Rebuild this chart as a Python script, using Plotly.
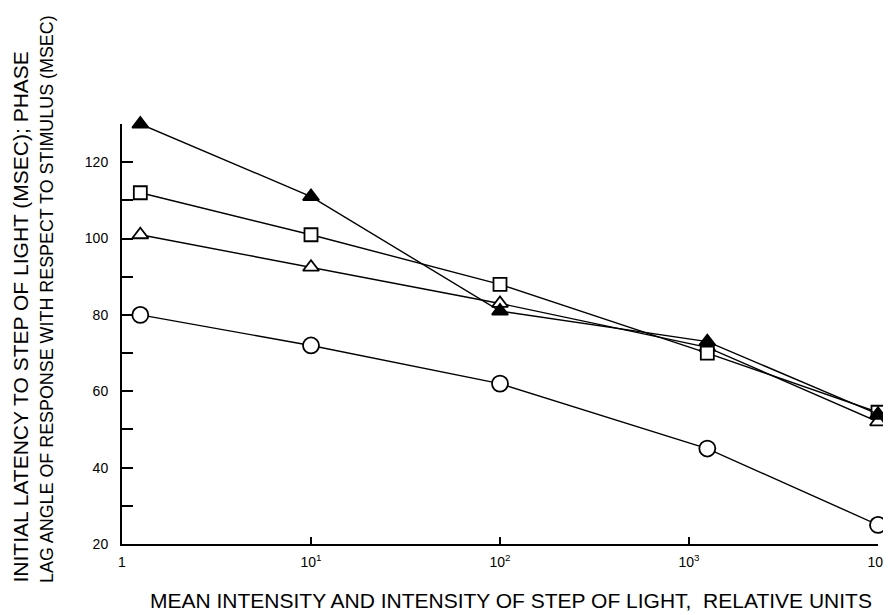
import plotly.graph_objects as go

# Data
intensity = [1.25, 10, 100, 1250, 10000]
circle_vals = [80, 72, 62, 45, 25]
open_tri_vals = [101, 92.5, 83, 71.5, 52]
square_vals = [112, 101, 88, 70, 54.5]
filled_tri_vals = [130, 111, 81, 73, 54]

x_tickvals = [1, 10, 100, 1000, 10000]
x_ticktext = ["1", "10<sup>1</sup>", "10<sup>2</sup>", "10<sup>3</sup>", "10<sup>4</sup>"]
y_tickvals = [20, 40, 60, 80, 100, 120]

x_title = "MEAN INTENSITY AND INTENSITY OF STEP OF LIGHT,  RELATIVE UNITS"
y_title_1 = "INITIAL LATENCY TO STEP OF LIGHT (MSEC); PHASE"
y_title_2 = "LAG ANGLE OF RESPONSE WITH RESPECT TO STIMULUS (MSEC)"

FONT = "Liberation Sans, Arial, sans-serif"

fig = go.Figure()

series = [
    (circle_vals, "circle", 16, "white"),
    (open_tri_vals, "triangle-up", 14, "white"),
    (square_vals, "square", 13, "white"),
    (filled_tri_vals, "triangle-up", 14, "black"),
]
for vals, sym, size, fill in series:
    fig.add_trace(go.Scatter(
        x=intensity, y=vals, mode="lines+markers",
        line=dict(color="black", width=1.4),
        marker=dict(symbol=sym, size=size, color=fill,
                    line=dict(color="black", width=1.8)),
        showlegend=False, cliponaxis=False,
    ))

fig.update_xaxes(
    type="log", range=[0, 4], automargin=False,
    tickvals=x_tickvals, ticktext=x_ticktext,
    ticks="inside", ticklen=7, tickwidth=1.5, tickcolor="black",
    showline=True, linecolor="black", linewidth=2,
    showgrid=False, zeroline=False,
    tickfont=dict(family=FONT, size=14, color="black"),
    ticklabelstandoff=4,
)
fig.update_yaxes(
    range=[20, 130], automargin=False,
    tickvals=y_tickvals,
    ticks="inside", ticklen=11, tickwidth=2, tickcolor="black",
    minor=dict(tickvals=[30, 50, 70, 90, 110, 130], ticks="inside", ticklen=11,
               tickwidth=2, tickcolor="black", showgrid=False),
    showline=True, linecolor="black", linewidth=2,
    showgrid=False, zeroline=False,
    tickfont=dict(family=FONT, size=14, color="black"),
    ticklabelstandoff=9,
)

fig.add_annotation(
    text=x_title, xref="paper", yref="paper",
    x=(511 - 122) / 756, y=(544 - 600) / 420,
    xanchor="center", yanchor="middle", showarrow=False,
    font=dict(family=FONT, size=21, color="black"),
)
fig.add_annotation(
    text=y_title_1, xref="paper", yref="paper",
    x=(20 - 122) / 756, y=(544 - 585) / 420,
    xanchor="center", yanchor="bottom", textangle=-90, showarrow=False,
    font=dict(family=FONT, size=21, color="black"),
)
fig.add_annotation(
    text=y_title_2, xref="paper", yref="paper",
    x=(47 - 122) / 756, y=(544 - 585) / 420,
    xanchor="center", yanchor="bottom", textangle=-90, showarrow=False,
    font=dict(family=FONT, size=17.9, color="black"),
)

fig.update_layout(
    width=883, height=607,
    margin=dict(l=114, r=13, t=116, b=71),
    plot_bgcolor="white", paper_bgcolor="white",
)

fig.write_html("out.html")
